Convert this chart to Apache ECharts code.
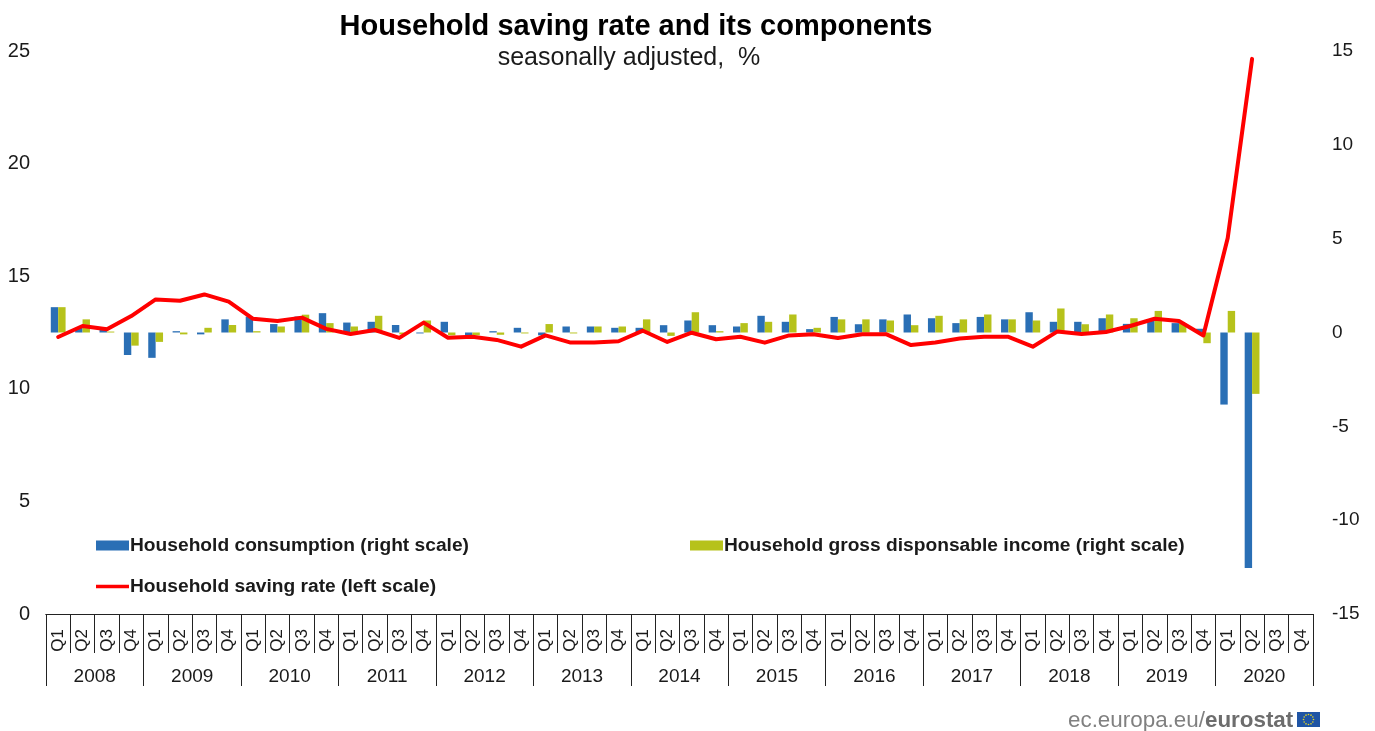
<!DOCTYPE html>
<html><head><meta charset="utf-8">
<style>html,body{margin:0;padding:0;background:#fff}#c{width:1375px;height:731px}</style>
<script src="https://cdn.jsdelivr.net/npm/echarts@6/dist/echarts.min.js"></script>
</head><body><div id="c"></div>
<script>
const years = ['2008','2009','2010','2011','2012','2013','2014','2015','2016','2017','2018','2019','2020'];
const quarterNames = ['Q1','Q2','Q3','Q4'];
const quarters = years.flatMap(y => quarterNames.map(q => y + ' ' + q));
const consumption = [1.35,0.25,0.2,-1.2, -1.35,0.07,-0.1,0.7, 0.85,0.45,0.85,1.03, 0.53,0.57,0.4,-0.05,
  0.57,-0.15,0.07,0.25, -0.15,0.32,0.32,0.25, 0.25,0.39,0.64,0.39, 0.32,0.89,0.57,0.18,
  0.83,0.44,0.7,0.96, 0.76,0.5,0.83,0.7, 1.08,0.57,0.57,0.76, 0.46,0.7,0.5,0.2, -3.84,-12.55,null,null];
const income = [1.35,0.7,0.05,-0.7, -0.5,-0.1,0.25,0.4, 0.07,0.32,0.95,0.5, 0.32,0.89,-0.1,0.64,
  -0.15,-0.15,-0.12,-0.05, 0.45,-0.05,0.32,0.32, 0.7,-0.18,1.08,0.07, 0.5,0.57,0.96,0.25,
  0.7,0.7,0.64,0.39, 0.89,0.7,0.96,0.7, 0.64,1.28,0.44,0.96, 0.76,1.15,0.5,-0.57, 1.15,-3.27,null,null];
const savingRate = [12.3,12.79,12.64,13.23, 13.97,13.91,14.19,13.87, 13.11,13.01,13.16,12.66, 12.43,12.61,12.26,12.94,
  12.27,12.31,12.17,11.87, 12.37,12.06,12.06,12.11, 12.58,12.08,12.49,12.2, 12.31,12.05,12.37,12.42,
  12.26,12.42,12.42,11.94, 12.06,12.23,12.31,12.31, 11.87,12.54,12.43,12.52, 12.79,13.11,13.01,12.37, 16.7,24.65,null,null];

const FONT = '"Liberation Sans", Arial, sans-serif';
const INK = '#1a1a1a';
const BLUE = '#2a6fb5', OLIVE = '#b6c21b', RED = '#ff0000';
const L1 = 'Household consumption (right scale)', L2 = 'Household gross disponsable income (right scale)', L3 = 'Household saving rate (left scale)';
const legendText = {fontFamily: FONT, fontSize: 19.2, fontWeight: 'bold', color: INK, padding: [0,0,0,-4]};

const flagStars = [];
for (let k = 0; k < 12; k++) {
  const a = k * Math.PI / 6;
  flagStars.push({type: 'circle', shape: {cx: 1308.5 + 5 * Math.cos(a), cy: 719.5 + 5 * Math.sin(a), r: 0.8}, style: {fill: '#e8d820'}, silent: true});
}

const chart = echarts.init(document.getElementById('c'), null, {renderer: 'canvas'});
chart.setOption({
  animation: false,
  backgroundColor: '#fff',
  title: [
    {text: 'Household saving rate and its components', left: 631, top: 7, textAlign: 'center',
     textStyle: {fontFamily: FONT, fontSize: 29, fontWeight: 'bold', color: '#000'}},
    {text: 'seasonally adjusted,  %', left: 624, top: 41, textAlign: 'center',
     textStyle: {fontFamily: FONT, fontSize: 25, fontWeight: 'normal', color: INK}}
  ],
  legend: [
    {data: [{name: L1, icon: 'rect'}], left: 91, top: 531, itemWidth: 33, itemHeight: 10, itemGap: 0, textStyle: legendText},
    {data: [{name: L2, icon: 'rect'}], left: 685, top: 531, itemWidth: 33, itemHeight: 10, itemGap: 0, textStyle: legendText},
    {data: [{name: L3, icon: 'rect'}], left: 91, top: 572, itemWidth: 33, itemHeight: 3.5, itemGap: 0, textStyle: legendText}
  ],
  grid: {left: 46, right: 62, top: 51, bottom: 117, containLabel: false},
  xAxis: [
    {type: 'category', data: quarters, position: 'bottom',
     axisLine: {onZero: false, lineStyle: {color: '#222', width: 1}},
     axisTick: {show: true, length: 39, alignWithLabel: false, lineStyle: {color: '#222', width: 1}},
     axisLabel: {interval: 0, rotate: 90, margin: 15, fontFamily: FONT, fontSize: 17, color: INK, padding: [6,0,0,0],
       formatter: v => v.split(' ')[1]}},
    {type: 'category', data: years, position: 'bottom',
     axisLine: {onZero: false, lineStyle: {color: '#222', width: 1}},
     axisTick: {show: true, length: 72, lineStyle: {color: '#222', width: 1}},
     axisLabel: {interval: 0, margin: 53, fontFamily: FONT, fontSize: 19, color: INK}}
  ],
  yAxis: [
    {type: 'value', min: 0, max: 25, interval: 5, position: 'left', splitLine: {show: false},
     axisLine: {show: false}, axisTick: {show: false},
     axisLabel: {margin: 16, fontFamily: FONT, fontSize: 20, color: INK, padding: [6,0,0,0]}},
    {type: 'value', min: -15, max: 15, interval: 5, position: 'right', splitLine: {show: false},
     axisLine: {show: false}, axisTick: {show: false},
     axisLabel: {margin: 19, align: 'left', fontFamily: FONT, fontSize: 19, color: INK, padding: [6,0,0,0]}}
  ],
  series: [
    {name: L1, type: 'bar', xAxisIndex: 0, yAxisIndex: 1, data: consumption, barWidth: 7.4, barGap: 0, itemStyle: {color: BLUE}},
    {name: L2, type: 'bar', xAxisIndex: 0, yAxisIndex: 1, data: income, barWidth: 7.4, barGap: 0, itemStyle: {color: OLIVE}},
    {name: L3, type: 'line', xAxisIndex: 0, yAxisIndex: 0, data: savingRate, showSymbol: false, symbol: 'none', smooth: false, z: 5,
     lineStyle: {color: RED, width: 4, cap: 'round', join: 'round'}, itemStyle: {color: RED}}
  ],
  graphic: [
    {type: 'text', left: 1068, top: 710, style: {
      rich: {a: {fontFamily: FONT, fontSize: 22.4, fill: '#808080'}, b: {fontFamily: FONT, fontSize: 22.4, fontWeight: 'bold', fill: '#6d6d6d'}},
      text: '{a|ec.europa.eu/}{b|eurostat}'}},
    {type: 'rect', shape: {x: 1297, y: 712, width: 23, height: 15}, style: {fill: '#1f55a5'}, silent: true},
    ...flagStars
  ]
});
</script></body></html>
